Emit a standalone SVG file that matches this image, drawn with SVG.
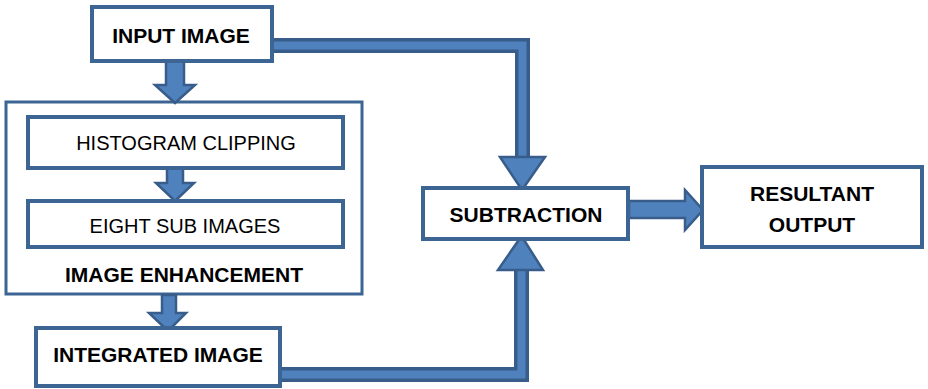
<svg xmlns="http://www.w3.org/2000/svg" width="928" height="389" viewBox="0 0 928 389">
<style>
.box{fill:#fff;stroke:#3d6594;stroke-width:4}
.outer{fill:#fff;stroke:#3d6594;stroke-width:3}
.t{font-family:"Liberation Sans",Arial,sans-serif;font-size:20px;fill:#000;text-anchor:middle}
.b{font-weight:bold;font-size:21px}
.band1{fill:none;stroke:#385d8a;stroke-width:15;stroke-linejoin:miter}
.band2{fill:none;stroke:#4f81bd;stroke-width:8;stroke-linejoin:miter}
.arr{fill:#4f81bd;stroke:#385d8a;stroke-width:2.5;stroke-linejoin:miter}
</style>
<rect width="928" height="389" fill="#fff"/>
<g id="image-enhancement">
<rect class="outer" x="6" y="102" width="356" height="192"/>
<text class="t b" x="184" y="282">IMAGE ENHANCEMENT</text>
</g>
<g id="connectors">
<path class="band1" d="M272 45.5H522.5V158"/>
<path class="band2" d="M272 45.5H522.5V158"/>
<path class="band1" d="M280 374.5H521.5V269"/>
<path class="band2" d="M280 374.5H521.5V269"/>
<polygon class="arr" points="500,157 545,157 522,190"/>
<polygon class="arr" points="521.5,236 543,270 498,270"/>
<polygon class="arr" points="166,61 184,61 184,85 195,85 175,103 155,85 166,85"/>
<polygon class="arr" points="167,168 183,168 183,183 194,183 175,201 156,183 167,183"/>
<polygon class="arr" points="162,295 176,295 176,313 186,313 168,331 149,313 162,313"/>
<polygon class="arr" points="629,201 685,201 685,190 703,210 685,230 685,218 629,218"/>
</g>
<g id="input-image">
<rect class="box" x="92" y="7" width="180" height="54"/>
<text class="t b" x="181" y="43">INPUT IMAGE</text>
</g>
<g id="histogram-clipping">
<rect class="box" x="28" y="117" width="315" height="51"/>
<text class="t" x="186" y="150">HISTOGRAM CLIPPING</text>
</g>
<g id="eight-sub-images">
<rect class="box" x="28" y="201" width="315" height="46"/>
<text class="t" x="185" y="233">EIGHT SUB IMAGES</text>
</g>
<g id="integrated-image">
<rect class="box" x="36" y="328" width="244" height="58"/>
<text class="t b" x="158" y="362">INTEGRATED IMAGE</text>
</g>
<g id="subtraction">
<rect class="box" x="423" y="188" width="205" height="51"/>
<text class="t b" x="526" y="222">SUBTRACTION</text>
</g>
<g id="resultant-output">
<rect class="box" x="702" y="167" width="220" height="80"/>
<text class="t b" x="812" y="201">RESULTANT</text>
<text class="t b" x="812" y="232">OUTPUT</text>
</g>
</svg>
